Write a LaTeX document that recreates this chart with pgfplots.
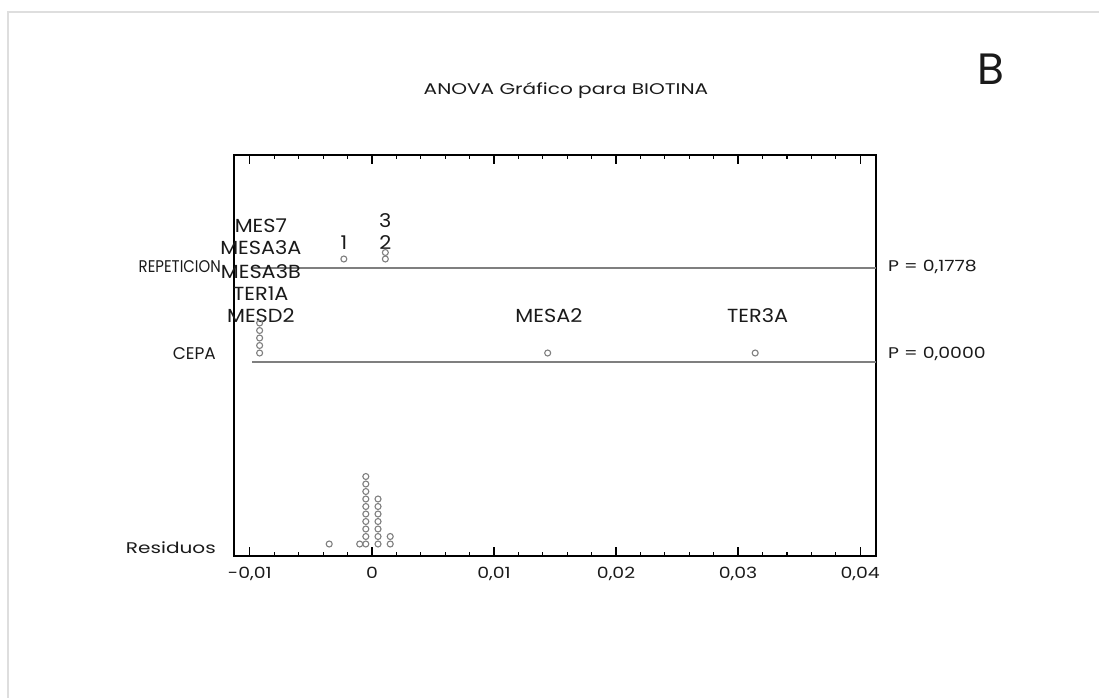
\documentclass[border=0pt]{standalone}
\usepackage{pgfplots}
\pgfplotsset{compat=1.18}
\usepackage{fontspec}
\setmainfont{Poppins}
\newfontfamily\wideA[FakeStretch=1.3]{Poppins}
\newfontfamily\wideB[FakeStretch=1.22]{Poppins}
\newfontfamily\wideC[FakeStretch=1.1]{Poppins}
\newfontfamily\narrowA[FakeStretch=0.88]{Poppins}
\definecolor{dotgray}{HTML}{7F7F7F}
\definecolor{txt}{HTML}{1A1A1A}
\begin{document}
\begin{tikzpicture}[every node/.style={inner sep=0pt, text=txt}]
\useasboundingbox (0,0) rectangle (1099bp,-698bp);
\draw[color=black!13, line width=2bp] (8bp,-698bp) -- (8bp,-12bp) -- (1099bp,-12bp);
\begin{axis}[
  at={(234bp,-556bp)}, anchor=south west, scale only axis,
  width=642bp, height=401bp,
  xmin=-0.0113, xmax=0.0413, ymin=0, ymax=401,
  scaled x ticks=false,
  axis line style={line width=1.6bp, black},
  xtick={-0.01,0,0.01,0.02,0.03,0.04},
  xticklabels={{-0,01},{0},{0,01},{0,02},{0,03},{0,04}},
  minor x tick num=4,
  ytick=\empty,
  tick style={black, line width=1.2bp},
  major tick length=9bp, minor tick length=4bp,
  tick align=inside,
  xtick pos=both,
  xticklabel style={font=\wideB\fontsize{15.5}{17}\selectfont, text=txt, yshift=-11bp},
  clip=false,
]
\addplot[dotgray, line width=1.2bp] coordinates {(-0.0098,288) (0.0413,288)};
\addplot[dotgray, line width=1.2bp] coordinates {(-0.0098,194) (0.0413,194)};
\addplot[only marks, mark=o, mark size=3bp, mark options={dotgray, line width=1.1bp}] coordinates {
  (-0.0035,12) (-0.0010,12)
  (-0.0005,12) (-0.0005,19.5) (-0.0005,27) (-0.0005,34.5) (-0.0005,42)
  (-0.0005,49.5) (-0.0005,57) (-0.0005,64.5) (-0.0005,72) (-0.0005,79.5)
  (0.0005,12) (0.0005,19.5) (0.0005,27) (0.0005,34.5) (0.0005,42) (0.0005,49.5) (0.0005,57)
  (0.0015,12) (0.0015,19.5)
};
\addplot[only marks, mark=o, mark size=3bp, mark options={dotgray, line width=1.1bp}] coordinates {
  (-0.0092,203) (-0.0092,210.5) (-0.0092,218) (-0.0092,225.5) (-0.0092,233)
  (0.0144,203) (0.0314,203)
};
\addplot[only marks, mark=o, mark size=3bp, mark options={dotgray, line width=1.1bp}] coordinates {
  (-0.0023,297) (0.0011,297) (0.0011,303.5)
};
\begin{scope}[every node/.style={inner sep=0pt, text=txt, font=\wideC\fontsize{19}{21}\selectfont}]
\node at (axis cs:-0.0091,330) {MES7};
\node at (axis cs:-0.0091,308) {MESA3A};
\node at (axis cs:-0.0091,284) {MESA3B};
\node at (axis cs:-0.0091,262) {TER1A};
\node at (axis cs:-0.0091,240) {MESD2};
\node at (axis cs:0.0145,240) {MESA2};
\node at (axis cs:0.0316,240) {TER3A};
\node at (axis cs:-0.0023,313) {1};
\node at (axis cs:0.0011,313) {2};
\node at (axis cs:0.0011,335) {3};
\end{scope}
\end{axis}
\begin{scope}[every node/.style={inner sep=0pt, text=txt, font=\fontsize{15.5}{17}\selectfont}]
\node[anchor=east] at (221bp,-267bp) {\narrowA\fontsize{17}{19}\selectfont REPETICION};
\node[anchor=east] at (216bp,-354bp) {\fontsize{17}{19}\selectfont CEPA};
\node[anchor=east] at (216bp,-548bp) {\wideA Residuos};
\node[anchor=west] at (888bp,-267bp) {\wideB P = 0,1778};
\node[anchor=west] at (888bp,-354bp) {\wideB P = 0,0000};
\node at (566bp,-90bp) {\wideA ANOVA Gráfico para BIOTINA};
\node at (991bp,-69bp) {\fontsize{44}{48}\selectfont B};
\end{scope}
\end{tikzpicture}
\end{document}
